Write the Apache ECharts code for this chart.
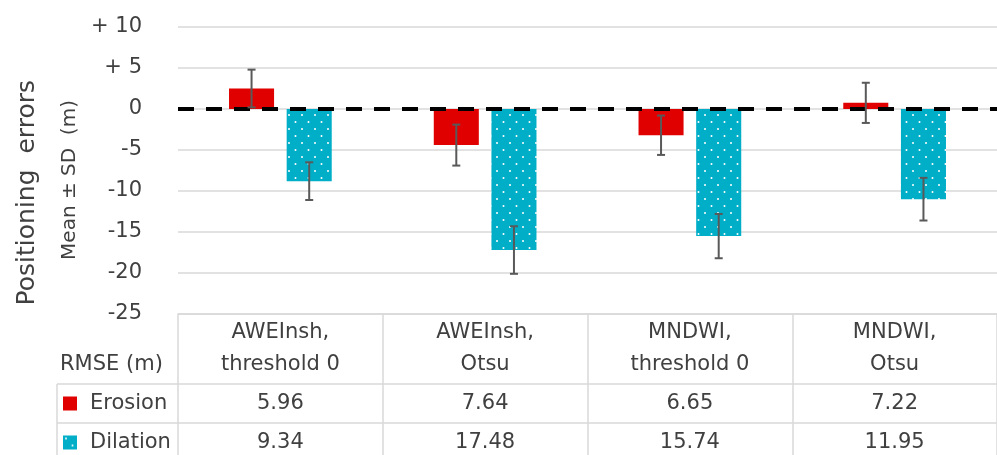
<!DOCTYPE html>
<html>
<head>
<meta charset="utf-8">
<script src="https://cdn.jsdelivr.net/npm/echarts@6/dist/echarts.min.js"></script>
<style>
  html, body { margin: 0; padding: 0; background: #fff; }
  #echart { width: 997px; height: 455px; }
</style>
</head>
<body>
<div id="echart"></div>
<script>
var categories = ['AWEInsh,\nthreshold 0', 'AWEInsh,\nOtsu', 'MNDWI,\nthreshold 0', 'MNDWI,\nOtsu'];
var erosionMean = [2.5, -4.4, -3.2, 0.75];
var erosionSd = [2.3, 2.5, 2.4, 2.45];
var dilationMean = [-8.8, -17.2, -15.5, -11.0];
var dilationSd = [2.3, 2.9, 2.7, 2.6];
var erosionRmse = ['5.96', '7.64', '6.65', '7.22'];
var dilationRmse = ['9.34', '17.48', '15.74', '11.95'];

var FONT = '"DejaVu Sans", sans-serif';
var TEXT = '#404040';
var LINE = '#d9d9d9';

// dotted fill for the dilation bars
var tile = document.createElement('canvas');
tile.width = 13; tile.height = 14;
var ctx = tile.getContext('2d');
ctx.fillStyle = '#00aec8';
ctx.fillRect(0, 0, 13, 14);
ctx.fillStyle = '#ffffff';
ctx.beginPath(); ctx.arc(3, 3, 1, 0, Math.PI * 2); ctx.fill();
ctx.beginPath(); ctx.arc(9.5, 10, 1, 0, Math.PI * 2); ctx.fill();

var myChart = echarts.init(document.getElementById('echart'));

function errorBar(sign) {
    return function (params, api) {
        var i = api.value(0), m = api.value(1), s = api.value(2);
        var bw = api.size([1, 0])[0] * 0.22;
        var dx = sign * bw * 0.64;
        var top = api.coord([i, m + s]);
        var bot = api.coord([i, m - s]);
        var x = top[0] + dx;
        var st = { stroke: '#595959', lineWidth: 2 };
        return {
            type: 'group',
            children: [
                { type: 'line', shape: { x1: x, y1: top[1], x2: x, y2: bot[1] }, style: st },
                { type: 'line', shape: { x1: x - 4, y1: top[1], x2: x + 4, y2: top[1] }, style: st },
                { type: 'line', shape: { x1: x - 4, y1: bot[1], x2: x + 4, y2: bot[1] }, style: st }
            ]
        };
    };
}

function rowAxis(labels, offset, tickLen) {
    return {
        type: 'category',
        position: 'bottom',
        offset: offset,
        data: categories,
        axisLine: { show: true, onZero: false, lineStyle: { color: LINE, width: 1.5 } },
        axisTick: { show: true, interval: 0, length: tickLen, lineStyle: { color: LINE, width: 1.5 } },
        axisLabel: {
            interval: 0, margin: 9, fontSize: 21, lineHeight: 21, color: TEXT, fontFamily: FONT,
            formatter: function (v, idx) { return labels[idx]; }
        },
        splitLine: { show: false }
    };
}

option = {
    backgroundColor: '#fff',
    animation: false,
    grid: { left: 178, top: 27, width: 828, height: 287 },
    legend: {
        orient: 'vertical',
        left: 63,
        top: 393,
        padding: 0,
        itemWidth: 14,
        itemHeight: 14,
        itemGap: 18,
        icon: 'rect',
        textStyle: { fontSize: 21, lineHeight: 21, color: TEXT, fontFamily: FONT, padding: [0, 0, 0, 8] },
        data: ['Erosion', 'Dilation']
    },
    xAxis: [
        {
            type: 'category',
            data: categories,
            axisLine: { show: true, onZero: false, lineStyle: { color: LINE, width: 1.5 } },
            axisTick: { show: true, interval: 0, length: 70, lineStyle: { color: LINE, width: 1.5 } },
            axisLabel: { interval: 0, margin: 3, fontSize: 21, lineHeight: 32, color: TEXT, fontFamily: FONT },
            splitLine: { show: false }
        },
        rowAxis(erosionRmse, 70, 39),
        rowAxis(dilationRmse, 109, 40)
    ],
    yAxis: {
        type: 'value',
        min: -25,
        max: 10,
        interval: 5,
        name: 'Mean ± SD  (m)',
        nameLocation: 'middle',
        nameRotate: 90,
        nameGap: 93,
        nameTextStyle: { fontSize: 20, color: TEXT, fontFamily: FONT, padding: [0, 19, 0, 0] },
        axisLine: { show: false },
        axisTick: { show: false },
        axisLabel: {
            margin: 36, fontSize: 21, color: TEXT, fontFamily: FONT,
            formatter: function (v) { return v > 0 ? '+ ' + v : String(v); }
        },
        splitLine: { lineStyle: { color: LINE, width: 1.5 } }
    },
    graphic: [
        {
            type: 'text', left: 15, top: 80,
            style: { text: 'Positioning  errors', fontSize: 25, fill: TEXT, fontFamily: FONT },
            rotation: Math.PI / 2
        },
        { type: 'text', left: 60, top: 354, style: { text: 'RMSE (m)', fontSize: 21, fill: TEXT, fontFamily: FONT } },
        { type: 'line', shape: { x1: 57, y1: 384, x2: 178, y2: 384 }, style: { stroke: LINE, lineWidth: 1.5 } },
        { type: 'line', shape: { x1: 57, y1: 423, x2: 178, y2: 423 }, style: { stroke: LINE, lineWidth: 1.5 } },
        { type: 'line', shape: { x1: 57, y1: 384, x2: 57, y2: 455 }, style: { stroke: LINE, lineWidth: 1.5 } }
    ],
    series: [
        {
            name: 'Erosion',
            type: 'bar',
            barWidth: '22%',
            barGap: '28%',
            itemStyle: { color: '#e00000' },
            data: erosionMean
        },
        {
            name: 'Dilation',
            type: 'bar',
            barWidth: '22%',
            barGap: '28%',
            itemStyle: { color: { image: tile, repeat: 'repeat' } },
            data: dilationMean,
            markLine: {
                silent: true,
                symbol: 'none',
                label: { show: false },
                lineStyle: { color: '#000', width: 4, type: [16, 12] },
                data: [{ yAxis: 0 }]
            }
        },
        {
            type: 'custom',
            z: 5,
            renderItem: errorBar(-1),
            encode: { x: 0, y: 1 },
            data: erosionMean.map(function (m, i) { return [i, m, erosionSd[i]]; })
        },
        {
            type: 'custom',
            z: 5,
            renderItem: errorBar(1),
            encode: { x: 0, y: 1 },
            data: dilationMean.map(function (m, i) { return [i, m, dilationSd[i]]; })
        }
    ]
};

myChart.setOption(option);
</script>
</body>
</html>
